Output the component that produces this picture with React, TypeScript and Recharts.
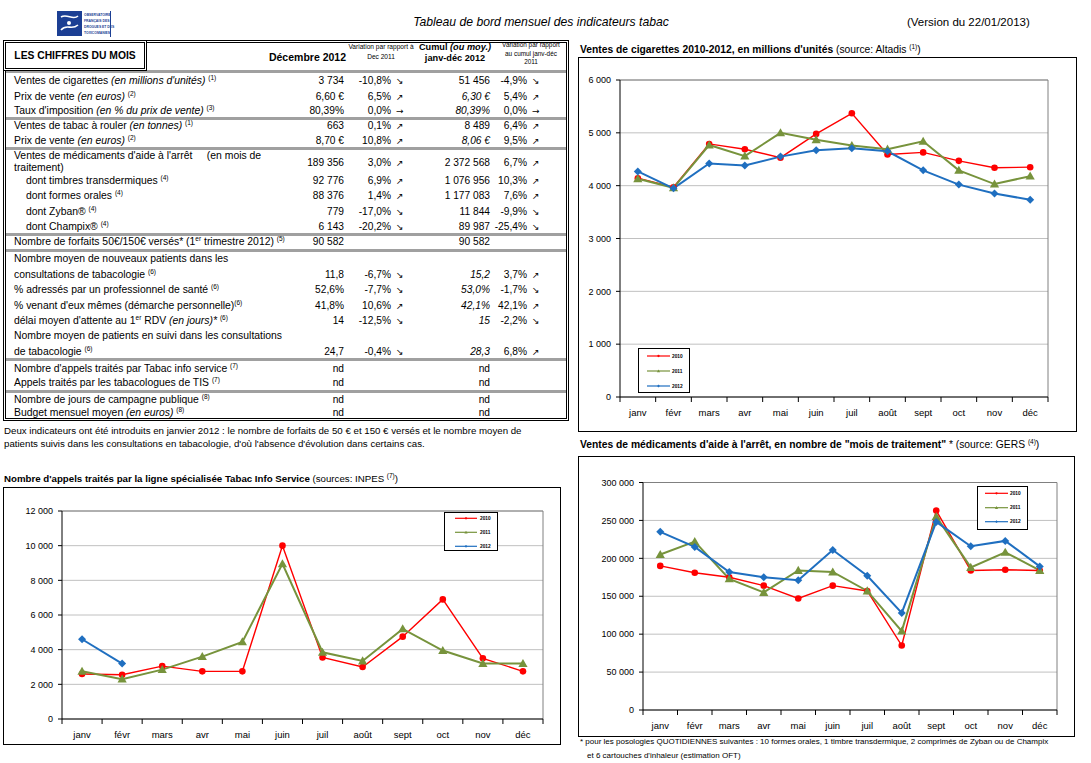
import React from 'react';
import { LineChart, Line, XAxis, YAxis, CartesianGrid } from 'recharts';

const FONT = "'Liberation Sans', Arial, Helvetica, sans-serif";
const RED = '#ff0000';
const GREEN = '#77933c';
const BLUE = '#1f6fc0';

// ---------- chart data ----------
const months = ['janv', 'févr', 'mars', 'avr', 'mai', 'juin', 'juil', 'août', 'sept', 'oct', 'nov', 'déc'];
const years = ['2010', '2011', '2012'];

const cig2010 = [4140, 3970, 4790, 4690, 4530, 4980, 5370, 4590, 4630, 4470, 4340, 4350];
const cig2011 = [4130, 3960, 4770, 4560, 5000, 4870, 4760, 4690, 4840, 4290, 4030, 4180];
const cig2012 = [4270, 3950, 4420, 4380, 4550, 4670, 4710, 4650, 4290, 4020, 3850, 3734];
const cigTicks = [0, 1000, 2000, 3000, 4000, 5000, 6000];

const tis2010 = [2600, 2550, 3050, 2750, 2750, 10000, 3550, 3000, 4750, 6900, 3500, 2750];
const tis2011 = [2750, 2300, 2850, 3600, 4450, 8950, 3850, 3350, 5200, 3950, 3200, 3200];
const tis2012 = [4600, 3200, null, null, null, null, null, null, null, null, null, null];
const tisTicks = [0, 2000, 4000, 6000, 8000, 10000, 12000];

const med2010 = [190000, 181000, 175000, 164000, 147000, 164000, 157000, 85000, 263000, 184000, 185000, 184000];
const med2011 = [205000, 222000, 173000, 155000, 184000, 182000, 157000, 104000, 255000, 188000, 208000, 184000];
const med2012 = [235000, 215000, 182000, 175000, 171000, 211000, 177000, 128000, 248000, 216000, 223000, 189356];
const medTicks = [0, 50000, 100000, 150000, 200000, 250000, 300000];

const build = (a: (number | null)[], b: (number | null)[], c: (number | null)[]) =>
  months.map((m, i) => ({ month: m, y2010: a[i], y2011: b[i], y2012: c[i] }));

const cigData = build(cig2010, cig2011, cig2012);
const tisData = build(tis2010, tis2011, tis2012);
const medData = build(med2010, med2011, med2012);

const seriesStyles = [
  { key: 'y2010', color: RED, kind: 'circle', width: 1.4, size: 3.3 },
  { key: 'y2011', color: GREEN, kind: 'triangle', width: 2, size: 4.6 },
  { key: 'y2012', color: BLUE, kind: 'diamond', width: 2, size: 4 },
];

const fmt = (v: number) => String(v).replace(/\B(?=(\d{3})+(?!\d))/g, ' ');

function makeDot(kind: string, color: string, s: number) {
  return (props: any) => {
    const { cx, cy, index, value } = props;
    if (value == null || cx == null || cy == null || isNaN(cy)) return <g key={`d${index}`} />;
    if (kind === 'circle') return <circle key={`d${index}`} cx={cx} cy={cy} r={s} fill={color} stroke="none" />;
    if (kind === 'triangle')
      return (
        <polygon key={`d${index}`} points={`${cx},${cy - s} ${cx + s},${cy + s * 0.75} ${cx - s},${cy + s * 0.75}`} fill={color} />
      );
    return <polygon key={`d${index}`} points={`${cx},${cy - s} ${cx + s},${cy} ${cx},${cy + s} ${cx - s},${cy}`} fill={color} />;
  };
}

function MonthTick(props: any) {
  const { x, y, payload, index, band } = props;
  return (
    <g>
      <line x1={x - band / 2} x2={x - band / 2} y1={y} y2={y + 5} stroke="#000" />
      {index === 11 && <line x1={x + band / 2} x2={x + band / 2} y1={y} y2={y + 5} stroke="#000" />}
      <text x={x} y={y + 19} textAnchor="middle" fontSize={9.5} fontFamily={FONT} fill="#000">
        {payload.value}
      </text>
    </g>
  );
}

type Box = { left: number; top: number; width: number; height: number };
type Plot = { left: number; top: number; right: number; bottom: number };

function TrendChart({ data, ticks, frame, plot }: { data: any[]; ticks: number[]; frame: Box; plot: Plot }) {
  const cw = frame.width - 2;
  const ch = frame.height - 2;
  const ox = frame.left + 1;
  const oy = frame.top + 1;
  const pl = plot.left - ox;
  const pt = plot.top - oy;
  const pr = plot.right - ox;
  const pb = plot.bottom - oy;
  const band = (pr - pl) / 12;
  return (
    <div
      style={{
        position: 'absolute',
        left: frame.left,
        top: frame.top,
        width: cw,
        height: ch,
        border: '1px solid #000',
        background: '#fff',
      }}
    >
      <LineChart width={cw} height={ch} data={data} margin={{ top: pt, right: cw - pr, bottom: 0, left: 0 }}>
        <CartesianGrid vertical={false} stroke="#c0c0c0" />
        <CartesianGrid horizontalPoints={[pt]} verticalPoints={[pr]} stroke="#808080" />
        <XAxis
          dataKey="month"
          interval={0}
          padding={{ left: band / 2, right: band / 2 }}
          height={ch - pb}
          tickLine={false}
          tickSize={0}
          tickMargin={0}
          axisLine={{ stroke: '#000' }}
          tick={(p: any) => <MonthTick {...p} band={band} />}
        />
        <YAxis
          width={pl}
          domain={[0, ticks[ticks.length - 1]]}
          ticks={ticks}
          interval={0}
          tickFormatter={fmt}
          tickSize={4}
          tickMargin={5}
          axisLine={{ stroke: '#000' }}
          tickLine={{ stroke: '#000' }}
          tick={{ fontSize: 9, fill: '#000', fontFamily: FONT }}
          allowDataOverflow
        />
        {seriesStyles.map((s) => (
          <Line
            key={s.key}
            dataKey={s.key}
            type="linear"
            stroke={s.color}
            strokeWidth={s.width}
            dot={makeDot(s.kind, s.color, s.size)}
            activeDot={false}
            connectNulls={false}
            isAnimationActive={false}
          />
        ))}
      </LineChart>
    </div>
  );
}

function LegendBox({ box, rows, line, textX }: { box: Box; rows: number[]; line: [number, number]; textX: number }) {
  return (
    <div
      style={{
        position: 'absolute',
        left: box.left,
        top: box.top,
        width: box.width - 3,
        height: box.height - 3,
        border: '1.5px solid #000',
        background: '#fff',
      }}
    >
      <svg width={box.width} height={box.height} style={{ position: 'absolute', left: -1.5, top: -1.5 }}>
        {seriesStyles.map((s, i) => {
          const y = rows[i];
          const mx = (line[0] + line[1]) / 2;
          return (
            <g key={s.key}>
              <line x1={line[0]} x2={line[1]} y1={y} y2={y} stroke={s.color} strokeWidth={1.2} />
              {makeDot(s.kind, s.color, s.size * 0.35)({ cx: mx, cy: y, index: i, value: 1 })}
              <text x={textX} y={y + 1.7} fontSize={4.8} fontWeight="bold" fontFamily={FONT} fill="#000">
                {years[i]}
              </text>
            </g>
          );
        })}
      </svg>
    </div>
  );
}

// ---------- table ----------
const sup = (t: string) => (
  <span style={{ fontSize: 6.5, position: 'relative', top: -4 }}>{t}</span>
);

type Row = {
  label: React.ReactNode[];
  indent?: boolean;
  dec?: string;
  v?: string;
  a?: string;
  cum?: string;
  ci?: boolean;
  cv?: string;
  ca?: string;
};

const tableRows: Row[] = [
  { label: [<>Ventes de cigarettes <i>(en millions d'unités)</i> {sup('(1)')}</>], dec: '3 734', v: '-10,8%', a: '↘', cum: '51 456', cv: '-4,9%', ca: '↘' },
  { label: [<>Prix de vente <i>(en euros)</i> {sup('(2)')}</>], dec: '6,60 €', v: '6,5%', a: '↗', cum: '6,30 €', ci: true, cv: '5,4%', ca: '↗' },
  { label: [<>Taux d'imposition <i>(en % du prix de vente)</i> {sup('(3)')}</>], dec: '80,39%', v: '0,0%', a: '→', cum: '80,39%', ci: true, cv: '0,0%', ca: '→' },
  { label: [<>Ventes de tabac à rouler <i>(en tonnes)</i> {sup('(1)')}</>], dec: '663', v: '0,1%', a: '↗', cum: '8 489', cv: '6,4%', ca: '↗' },
  { label: [<>Prix de vente <i>(en euros)</i> {sup('(2)')}</>], dec: '8,70 €', v: '10,8%', a: '↗', cum: '8,06 €', ci: true, cv: '9,5%', ca: '↗' },
  { label: [<>Ventes de médicaments d'aide à l'arrêt{'     '}(en mois de</>, <>traitement)</>], dec: '189 356', v: '3,0%', a: '↗', cum: '2 372 568', cv: '6,7%', ca: '↗' },
  { label: [<>dont timbres transdermiques {sup('(4)')}</>], indent: true, dec: '92 776', v: '6,9%', a: '↗', cum: '1 076 956', cv: '10,3%', ca: '↗' },
  { label: [<>dont formes orales {sup('(4)')}</>], indent: true, dec: '88 376', v: '1,4%', a: '↗', cum: '1 177 083', cv: '7,6%', ca: '↗' },
  { label: [<>dont Zyban® {sup('(4)')}</>], indent: true, dec: '779', v: '-17,0%', a: '↘', cum: '11 844', cv: '-9,9%', ca: '↘' },
  { label: [<>dont Champix® {sup('(4)')}</>], indent: true, dec: '6 143', v: '-20,2%', a: '↘', cum: '89 987', cv: '-25,4%', ca: '↘' },
  { label: [<>Nombre de forfaits 50€/150€ versés* (1{sup('er')} trimestre 2012) {sup('(5)')}</>], dec: '90 582', cum: '90 582' },
  { label: [<>Nombre moyen de nouveaux patients dans les</>, <>consultations de tabacologie {sup('(6)')}</>], dec: '11,8', v: '-6,7%', a: '↘', cum: '15,2', ci: true, cv: '3,7%', ca: '↗' },
  { label: [<>% adressés par un professionnel de santé {sup('(6)')}</>], dec: '52,6%', v: '-7,7%', a: '↘', cum: '53,0%', ci: true, cv: '-1,7%', ca: '↘' },
  { label: [<>% venant d'eux mêmes (démarche personnelle){sup('(6)')}</>], dec: '41,8%', v: '10,6%', a: '↗', cum: '42,1%', ci: true, cv: '42,1%', ca: '↗' },
  { label: [<>délai moyen d'attente au 1{sup('er')} RDV <i>(en jours)*</i> {sup('(6)')}</>], dec: '14', v: '-12,5%', a: '↘', cum: '15', ci: true, cv: '-2,2%', ca: '↘' },
  { label: [<>Nombre moyen de patients en suivi dans les consultations</>, <>de tabacologie {sup('(6)')}</>], dec: '24,7', v: '-0,4%', a: '↘', cum: '28,3', ci: true, cv: '6,8%', ca: '↗' },
  { label: [<>Nombre d'appels traités par Tabac info service {sup('(7)')}</>], dec: 'nd', cum: 'nd' },
  { label: [<>Appels traités par les tabacologues de TIS {sup('(7)')}</>], dec: 'nd', cum: 'nd' },
  { label: [<>Nombre de jours de campagne publique {sup('(8)')}</>], dec: 'nd', cum: 'nd' },
  { label: [<>Budget mensuel moyen <i>(en euros)</i> {sup('(8)')}</>], dec: 'nd', cum: 'nd' },
];

// layout of the table rows (page y of value line, and of label lines)
const rowValueY = [81, 97, 111, 126, 141, 163, 181, 196, 212, 227, 242, 275, 290, 306, 321, 352, 369, 383, 400, 413];
const rowLabelY: Record<number, number[]> = { 5: [156, 168], 11: [259, 275], 15: [336, 352] };
const separatorsY = [71, 118, 148, 234, 250, 359, 391];

const COL = { label: 14, indent: 26, dec: 344, v: 391, a: 396, cum: 490, cv: 527, ca: 532 };
const LBL = 10.4;

function Txt({
  x, y, w = 600, align = 'left', size = 10, bold, italic, children, color = '#000', family = FONT,
}: any) {
  const left = align === 'left' ? x : align === 'right' ? x - w : x - w / 2;
  return (
    <div
      style={{
        position: 'absolute',
        left,
        top: y - 7,
        width: w,
        height: 14,
        lineHeight: '14px',
        fontSize: size,
        textAlign: align,
        fontWeight: bold ? 'bold' : 'normal',
        fontStyle: italic ? 'italic' : 'normal',
        whiteSpace: 'pre',
        fontFamily: family,
        color,
      }}
    >
      {children}
    </div>
  );
}

function Table() {
  return (
    <>
      <div style={{ position: 'absolute', left: 3, top: 40, width: 560, height: 375, border: '3px double #000' }} />
      {separatorsY.map((y) => (
        <div key={y} style={{ position: 'absolute', left: 6, top: y - 1.5, width: 560, height: 3, background: '#a0a0a0' }} />
      ))}
      <div style={{ position: 'absolute', left: 3, top: 40, width: 138, height: 25, border: '3px double #000', background: '#fff' }} />
      <Txt x={75} y={56} w={140} align="center" size={10.3} bold>LES CHIFFRES DU MOIS</Txt>
      <Txt x={346} y={57} align="right" size={10.5} bold>Décembre 2012</Txt>
      <Txt x={381} y={47} w={80} align="center" size={6.6}>Variation par rapport à</Txt>
      <Txt x={381} y={57} w={80} align="center" size={6.6}>Dec 2011</Txt>
      <Txt x={455} y={47} w={90} align="center" size={9.2} bold>Cumul <i>(ou moy.)</i></Txt>
      <Txt x={455} y={58} w={90} align="center" size={9.2} bold>janv-déc 2012</Txt>
      <Txt x={531} y={45} w={70} align="center" size={6.4}>Variation par rapport</Txt>
      <Txt x={531} y={53.5} w={70} align="center" size={6.4}>au cumul janv-déc</Txt>
      <Txt x={531} y={62} w={70} align="center" size={6.4}>2011</Txt>
      {tableRows.map((r, i) => {
        const vy = rowValueY[i];
        const ly = rowLabelY[i] || [vy];
        return (
          <React.Fragment key={i}>
            {r.label.map((l, j) => (
              <Txt key={j} x={r.indent ? COL.indent : COL.label} y={ly[j]} size={LBL}>{l}</Txt>
            ))}
            {r.dec && <Txt x={COL.dec} y={vy} align="right" size={10.2}>{r.dec}</Txt>}
            {r.v && <Txt x={COL.v} y={vy} align="right" size={10.2}>{r.v}</Txt>}
            {r.a && <Txt x={COL.a} y={vy} size={9} family="'DejaVu Sans', sans-serif">{r.a}</Txt>}
            {r.cum && <Txt x={COL.cum} y={vy} align="right" size={10.2} italic={r.ci}>{r.cum}</Txt>}
            {r.cv && <Txt x={COL.cv} y={vy} align="right" size={10.2}>{r.cv}</Txt>}
            {r.ca && <Txt x={COL.ca} y={vy} size={9} family="'DejaVu Sans', sans-serif">{r.ca}</Txt>}
          </React.Fragment>
        );
      })}
      <Txt x={4} y={431} size={9.7}>Deux indicateurs ont été introduits en janvier 2012 : le nombre de forfaits de 50 € et 150 € versés et le nombre moyen de</Txt>
      <Txt x={4} y={444} size={9.7}>patients suivis dans les consultations en tabacologie, d'où l'absence d'évolution dans certains cas.</Txt>
    </>
  );
}

function Header() {
  return (
    <>
      <div style={{ position: 'absolute', left: 57, top: 11, width: 25, height: 25, background: '#1c3f94' }}>
        <svg width={25} height={25}>
          <path d="M4 6 C 10 2, 16 10, 21 5" stroke="#fff" strokeWidth={1.6} fill="none" />
          <path d="M4 19 C 10 12, 14 20, 21 14" stroke="#fff" strokeWidth={1.6} fill="none" />
          <circle cx={12} cy={12} r={2} fill="#fff" />
        </svg>
      </div>
      <div style={{ position: 'absolute', left: 84, top: 12, width: 26, fontSize: 3.4, lineHeight: '6px', color: '#1c3f94', fontWeight: 'bold', fontFamily: FONT, whiteSpace: 'nowrap' }}>
        <div>OBSERVATOIRE</div>
        <div>FRANÇAIS DES</div>
        <div>DROGUES ET DES</div>
        <div>TOXICOMANIES</div>
      </div>
      <div style={{ position: 'absolute', left: 110, top: 11, width: 1, height: 26, background: '#1c3f94' }} />
      <Txt x={541} y={22} w={400} align="center" size={12.2} italic>Tableau de bord mensuel des indicateurs tabac</Txt>
      <Txt x={907} y={22} size={11.5}>(Version du 22/01/2013)</Txt>
    </>
  );
}

function ChartTitle({ x, y, bold, rest, note, size }: any) {
  return (
    <Txt x={x} y={y} size={size}>
      <b>{bold}</b> {rest} {sup(note)})
    </Txt>
  );
}

export default function App() {
  return (
    <div style={{ position: 'absolute', left: 0, top: 0, width: 1091, height: 763, background: '#fff', overflow: 'hidden', fontFamily: FONT }}>
      <Header />
      <Table />

      <ChartTitle x={580} y={49.5} size={10.3} bold="Ventes de cigarettes 2010-2012, en millions d'unités" rest="(source: Altadis" note="(1)" />
      <TrendChart data={cigData} ticks={cigTicks} frame={{ left: 578, top: 57, width: 499, height: 375 }} plot={{ left: 620, top: 80, right: 1048, bottom: 397 }} />
      <LegendBox box={{ left: 638, top: 348, width: 53, height: 46 }} rows={[8, 23, 38]} line={[9, 32]} textX={34} />

      <ChartTitle x={4} y={479} size={9.7} bold="Nombre d'appels traités par la ligne spécialisée Tabac Info Service" rest="(sources: INPES" note="(7)" />
      <TrendChart data={tisData} ticks={tisTicks} frame={{ left: 3, top: 487, width: 558, height: 258 }} plot={{ left: 62, top: 511, right: 543, bottom: 719 }} />
      <LegendBox box={{ left: 444, top: 512, width: 55, height: 40 }} rows={[6.3, 20.3, 34.3]} line={[11, 33]} textX={36} />

      <ChartTitle x={580} y={445} size={10.3} bold={'Ventes de médicaments d\'aide à l\'arrêt, en nombre de "mois de traitement"'} rest="* (source: GERS" note="(4)" />
      <TrendChart data={medData} ticks={medTicks} frame={{ left: 578, top: 456, width: 497, height: 281 }} plot={{ left: 643, top: 482.5, right: 1057, bottom: 710 }} />
      <LegendBox box={{ left: 977, top: 486, width: 52, height: 45 }} rows={[7.3, 21.7, 35.7]} line={[8, 31]} textX={33} />

      <Txt x={580} y={742} size={8}>* pour les posologies QUOTIDIENNES suivantes : 10 formes orales, 1 timbre transdermique, 2 comprimés de Zyban ou de Champix</Txt>
      <Txt x={587} y={756} size={8}>et 6 cartouches d'inhaleur (estimation OFT)</Txt>
    </div>
  );
}
